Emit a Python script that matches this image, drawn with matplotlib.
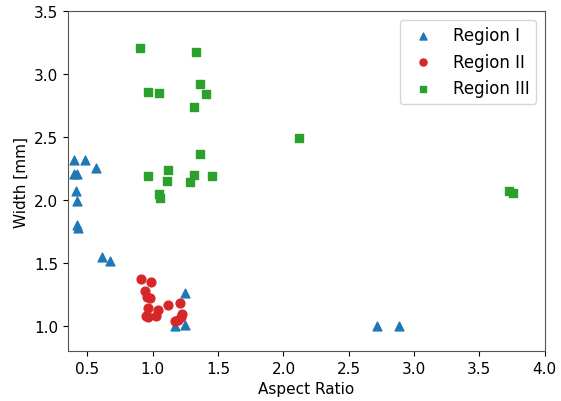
import matplotlib
matplotlib.use('Agg')
import matplotlib.pyplot as plt

# Region I (triangles)
r1_x = [0.40, 0.48, 0.567, 0.40, 0.42, 0.413, 0.42, 0.423, 0.425, 0.613, 0.674, 1.243, 1.171, 1.243, 2.716, 2.887]
r1_y = [2.32, 2.32, 2.256, 2.21, 2.21, 2.076, 1.99, 1.80, 1.78, 1.545, 1.513, 1.259, 1.00, 1.005, 1.00, 1.00]

# Region II (circles)
r2_x = [0.909, 0.983, 0.942, 0.957, 0.975, 0.962, 1.039, 0.945, 0.967, 1.028, 1.12, 1.212, 1.222, 1.217, 1.17, 1.195]
r2_y = [1.375, 1.346, 1.278, 1.23, 1.222, 1.145, 1.129, 1.08, 1.071, 1.079, 1.167, 1.182, 1.098, 1.071, 1.04, 1.045]

# Region III (squares)
r3_x = [0.904, 1.33, 0.967, 1.049, 1.358, 1.411, 1.312, 1.358, 1.116, 0.967, 1.312, 1.452, 1.11, 1.287,
        1.051, 1.057, 2.118, 3.724, 3.76]
r3_y = [3.206, 3.177, 2.862, 2.849, 2.923, 2.844, 2.74, 2.365, 2.243, 2.195, 2.2, 2.195, 2.153, 2.148,
        2.05, 2.02, 2.494, 2.074, 2.06]

fig, ax = plt.subplots(figsize=(5.61, 4.02), dpi=100)
fig.subplots_adjust(left=0.121, right=0.971, top=0.969, bottom=0.124)

ax.scatter(r1_x, r1_y, marker='^', color='tab:blue', s=40, label='Region I')
ax.scatter(r2_x, r2_y, marker='o', color='tab:red', s=40, label='Region II')
ax.scatter(r3_x, r3_y, marker='s', color='tab:green', s=36, label='Region III')

ax.set_xlim(0.35, 4.0)
ax.set_ylim(0.8, 3.5)
ax.set_xlabel('Aspect Ratio', fontsize=11)
ax.set_ylabel('Width [mm]', fontsize=11)
ax.tick_params(labelsize=11)
for s in ax.spines.values():
    s.set_color('#555555')
ax.legend(loc='upper right', fontsize=12, markerscale=0.8)

fig.savefig('out.png', dpi=100)
